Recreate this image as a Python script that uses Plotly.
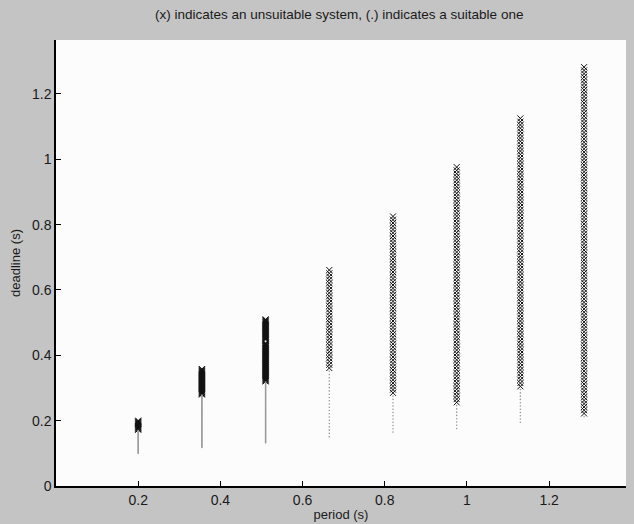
import numpy as np
import plotly.graph_objects as go

# ---- data ----
periods = [0.2, 0.355, 0.51, 0.665, 0.82, 0.975, 1.13, 1.285]
deadline_min = [0.100, 0.118, 0.132, 0.151, 0.165, 0.176, 0.195, 0.212]   # lowest deadline tested
deadline_split = [0.172, 0.280, 0.320, 0.361, 0.285, 0.255, 0.305, 0.215]  # lowest unsuitable deadline
deadline_max = [0.200, 0.358, 0.510, 0.666, 0.825, 0.975, 1.129, 1.287]   # highest deadline tested
deadline_step = [0.002, 0.002, 0.002, 0.01, 0.01, 0.01, 0.01, 0.01]
suitable_extra_period = [0.51]
suitable_extra_deadline = [0.443]

ux, uy, sx, sy = [], [], [], []
for p, lo, sp, hi, st in zip(periods, deadline_min, deadline_split, deadline_max, deadline_step):
    d = np.arange(lo, hi + st / 2, st)
    for v in d:
        is_extra = any(abs(p - ep) < 1e-9 and abs(v - ed) < st / 2
                       for ep, ed in zip(suitable_extra_period, suitable_extra_deadline))
        if v < sp or is_extra:
            sx.append(p); sy.append(v)
        else:
            ux.append(p); uy.append(v)

fig = go.Figure()
fig.add_trace(go.Scatter(
    x=ux, y=uy, mode="markers",
    marker=dict(symbol="x-thin", size=6, line=dict(color="#111111", width=1)),
    showlegend=False, hoverinfo="skip"))
fig.add_trace(go.Scatter(
    x=sx, y=sy, mode="markers",
    marker=dict(symbol="circle", size=1.6, color="#9a9a9a"),
    showlegend=False, hoverinfo="skip"))
fig.add_trace(go.Scatter(
    x=suitable_extra_period, y=suitable_extra_deadline, mode="markers",
    marker=dict(symbol="circle", size=2, color="#dddddd"),
    showlegend=False, hoverinfo="skip"))

font = "Liberation Sans, Arial, Helvetica, sans-serif"
fig.update_layout(
    width=634, height=524,
    margin=dict(l=56, r=8, t=40, b=38),
    paper_bgcolor="#c4c4c4",
    plot_bgcolor="#fcfcfc",
    font=dict(family=font, size=14, color="#1a1a1a"),
    title=dict(text="(x) indicates an unsuitable system, (.) indicates a suitable one",
               x=0.535, xanchor="center", y=0.972, yanchor="middle",
               font=dict(size=13.5, family=font, color="#1a1a1a")),
    xaxis=dict(range=[0, 1.387], tickvals=[0.2, 0.4, 0.6, 0.8, 1, 1.2],
               ticktext=["0.2", "0.4", "0.6", "0.8", "1", "1.2"],
               ticks="inside", ticklen=5, tickcolor="black",
               showline=True, linecolor="black", linewidth=1.5,
               showgrid=False, zeroline=False, automargin=False,
               title=dict(text="period (s)", standoff=3, font=dict(size=13))),
    yaxis=dict(range=[0, 1.365], tickvals=[0, 0.2, 0.4, 0.6, 0.8, 1, 1.2],
               ticktext=["0", "0.2", "0.4", "0.6", "0.8", "1", "1.2"],
               ticks="inside", ticklen=5, tickcolor="black",
               showline=True, linecolor="black", linewidth=1.5,
               showgrid=False, zeroline=False, automargin=False,
               title=dict(text="deadline (s)", standoff=8, font=dict(size=13))),
)

fig.write_html("out.html", config={"displayModeBar": False},
               post_script="document.body.style.margin='0';document.body.style.overflow='hidden';")
